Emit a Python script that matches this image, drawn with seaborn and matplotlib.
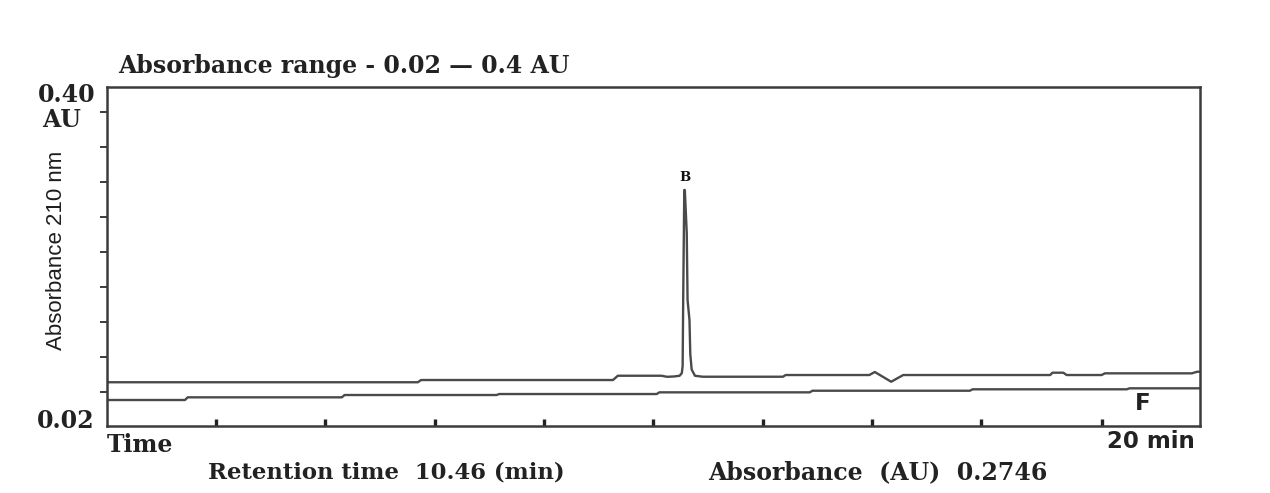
import numpy as np
import pandas as pd
import matplotlib
matplotlib.use("Agg")
import matplotlib.pyplot as plt
import seaborn as sns

# ---------------- data ----------------
sample_time = [0.00, 5.69, 5.75, 9.26, 9.35, 10.15, 10.25, 10.38, 10.48, 10.52, 10.535, 10.545,
               10.565, 10.575, 10.61, 10.625, 10.66, 10.675, 10.70, 10.76, 10.90, 12.37, 12.42,
               13.95, 14.05, 14.35, 14.57, 17.26, 17.30, 17.50, 17.56, 18.20, 18.26, 19.85,
               19.95, 20.00]
sample_abs = [0.0687, 0.0687, 0.0712, 0.0712, 0.0760, 0.0760, 0.0748, 0.0752, 0.0760, 0.0790,
              0.0870, 0.1610, 0.2842, 0.2842, 0.2360, 0.1610, 0.1385, 0.1000, 0.0830, 0.0760,
              0.0749, 0.0749, 0.0768, 0.0768, 0.0802, 0.0693, 0.0768, 0.0768, 0.0794, 0.0794,
              0.0768, 0.0768, 0.0787, 0.0787, 0.0805, 0.0805]

blank_time = [0.00, 1.43, 1.48, 4.30, 4.35, 7.13, 7.18, 10.06, 10.11, 12.86, 12.91,
              15.79, 15.84, 18.66, 18.71, 20.00]
blank_abs = [0.0488, 0.0488, 0.0518, 0.0518, 0.0544, 0.0544, 0.0555, 0.0555, 0.0574,
             0.0574, 0.0592, 0.0592, 0.0608, 0.0608, 0.0619, 0.0619]

title_text = "Absorbance range - 0.02 \u2014 0.4 AU"
y_label = "Absorbance 210 nm"
y_top_label = "0.40"
y_unit_label = "AU"
y_bottom_label = "0.02"
x_start_label = "Time"
x_end_label = "20 min"
retention_text = "Retention time  10.46 (min)"
absorbance_text = "Absorbance  (AU)  0.2746"
peak_label = "B"
blank_label = "F"

# ---------------- figure ----------------
sns.set_style("white")
plt.rcParams["font.family"] = ["DejaVu Serif", "DejaVu Sans"]

W, H = 1270, 493
fig = plt.figure(figsize=(W / 100, H / 100), dpi=100)
fig.patch.set_facecolor("white")

left_px, right_px, top_px, bottom_px = 106.8, 1200.0, 86.7, 425.7
ax = fig.add_axes([left_px / W, 1 - bottom_px / H,
                   (right_px - left_px) / W, (bottom_px - top_px) / H])

df_s = pd.DataFrame({"time": sample_time, "abs": sample_abs})
df_b = pd.DataFrame({"time": blank_time, "abs": blank_abs})
line_col = "#4a4a4a"
sns.lineplot(data=df_s, x="time", y="abs", sort=False, estimator=None,
             color=line_col, linewidth=1.7, ax=ax)
sns.lineplot(data=df_b, x="time", y="abs", sort=False, estimator=None,
             color=line_col, linewidth=1.7, ax=ax)

ax.set_xlim(0, 20)
ax.set_ylim(0.02, 0.40)

for sp in ax.spines.values():
    sp.set_visible(True)
    sp.set_color("#3c3c3c")
    sp.set_linewidth(1.8)

ax.set_yticks(np.linspace(0.0574, 0.372, 9))
ax.set_yticklabels([])
ax.set_xticks([2, 4, 6, 8, 10, 12, 14, 16, 18.2])
ax.set_xticklabels([])
ax.tick_params(axis="y", direction="out", length=5, width=1.4, color="#3c3c3c", left=True)
ax.tick_params(axis="x", direction="in", length=5, width=2.4, color="#222222", bottom=True)
ax.set_xlabel("")
ax.set_ylabel(y_label, family=["Liberation Sans", "DejaVu Sans"], fontsize=16,
              color="#1e1e1e")
ax.yaxis.set_label_coords((67 - left_px) / (right_px - left_px), (bottom_px - 250) / (bottom_px - top_px))


def ftext(px, py, s, **kw):
    fig.text(px / W, 1 - py / H, s, **kw)


serif = dict(family="DejaVu Serif", fontweight="bold", color="#222222", fontsize=17)
sans = dict(family="DejaVu Sans", fontweight="bold", color="#222222", fontsize=16.5)

ftext(118, 66, title_text, ha="left", va="center", **serif)
ftext(95, 95, y_top_label, ha="right", va="center", **serif)
ftext(62, 120, y_unit_label, ha="center", va="center", **serif)
ftext(94, 421, y_bottom_label, ha="right", va="center", **serif)
ftext(107, 445, x_start_label, ha="left", va="center", **serif)
ftext(208, 472, retention_text, ha="left", va="center",
      **{**serif, "fontsize": 16.4})
ftext(708, 472, absorbance_text, ha="left", va="center", **serif)
ftext(1195, 442, x_end_label, ha="right", va="center", **sans)
ftext(1143, 404, blank_label, ha="center", va="center", **sans)

ax.annotate(peak_label, xy=(10.57, 0.2842), xytext=(0, 9), textcoords="offset points",
            ha="center", va="center", family="DejaVu Serif", fontweight="bold",
            fontsize=9.5, color="#111111")

fig.savefig("out.png", dpi=100, facecolor="white")
